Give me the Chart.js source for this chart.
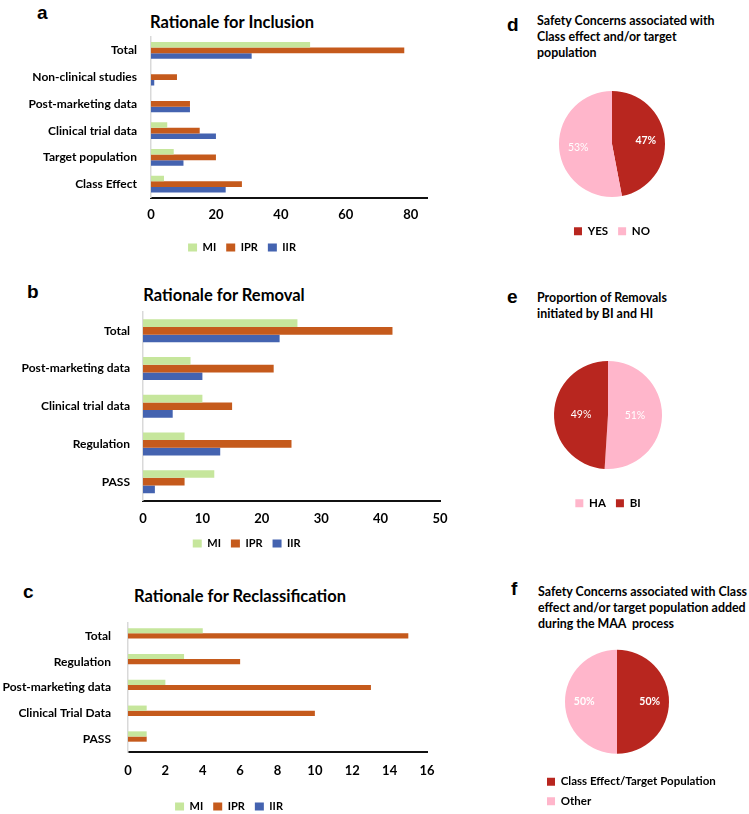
<!DOCTYPE html>
<html>
<head>
<meta charset="utf-8">
<script src="https://cdn.jsdelivr.net/npm/chart.js@4.4.1/dist/chart.umd.min.js"></script>
<style>
body{margin:0;background:#fff;width:749px;height:814px;overflow:hidden;position:relative;font-family:Lato,"Open Sans",sans-serif;color:#000}
canvas{position:absolute}
.letter{position:absolute;font:bold 19px "Liberation Sans",Arial,sans-serif;line-height:20px}
.ttl{position:absolute;width:300px;text-align:center;font-weight:bold;font-size:16.5px;line-height:18px;white-space:nowrap}
.pieTtl{position:absolute;font-weight:bold;font-size:12.4px;line-height:16px;white-space:nowrap}
</style>
</head>
<body>
<div class="letter" style="left:37px;top:3px">a</div>
<div class="letter" style="left:27px;top:282px">b</div>
<div class="letter" style="left:23px;top:582px">c</div>
<div class="letter" style="left:507px;top:15px">d</div>
<div class="letter" style="left:507px;top:287px">e</div>
<div class="letter" style="left:511px;top:579px">f</div>

<div class="ttl" style="left:82px;top:13px">Rationale for Inclusion</div>
<div class="ttl" style="left:74px;top:286px">Rationale for Removal</div>
<div class="ttl" style="left:90px;top:587px">Rationale for Reclassification</div>

<div class="pieTtl" style="left:537px;top:13px">Safety Concerns associated with<br>Class effect and/or target<br>population</div>
<div class="pieTtl" style="left:537px;top:290px">Proportion of Removals<br>initiated by BI and HI</div>
<div class="pieTtl" style="left:538px;top:584px">Safety Concerns associated with Class<br>effect and/or target population added<br>during the MAA&nbsp; process</div>

<canvas id="chartA" width="470" height="263" style="left:0;top:0"></canvas>
<canvas id="chartB" width="470" height="289" style="left:0;top:270px"></canvas>
<canvas id="chartC" width="460" height="242" style="left:0;top:580px"></canvas>
<canvas id="chartD" width="160" height="177" style="left:532px;top:70px"></canvas>
<canvas id="chartE" width="160" height="179" style="left:528px;top:340px"></canvas>
<canvas id="chartF" width="210" height="187" style="left:539px;top:630px"></canvas>

<script>
// bar series: MI, IPR, IIR
const seriesNames = ['MI', 'IPR', 'IIR'];
const seriesColors = ['#c6e69c', '#c55a1c', '#4463b0'];

const inclusionCats = ['Total', 'Non-clinical studies', 'Post-marketing data', 'Clinical trial data', 'Target population', 'Class Effect'];
const inclusionMI = [49, 0, 0, 5, 7, 4];
const inclusionIPR = [78, 8, 12, 15, 20, 28];
const inclusionIIR = [31, 1, 12, 20, 10, 23];

const removalCats = ['Total', 'Post-marketing data', 'Clinical trial data', 'Regulation', 'PASS'];
const removalMI = [26, 8, 10, 7, 12];
const removalIPR = [42, 22, 15, 25, 7];
const removalIIR = [23, 10, 5, 13, 2];

const reclassCats = ['Total', 'Regulation', 'Post-marketing data', 'Clinical Trial Data', 'PASS'];
const reclassMI = [4, 3, 2, 1, 1];
const reclassIPR = [15, 6, 13, 10, 1];
const reclassIIR = [0, 0, 0, 0, 0];

// pies
const darkRed = '#b8261f', pink = '#ffb6cb';
const concernLabels = ['YES', 'NO'];
const concernValues = [47, 53];
const removalByLabels = ['HA', 'BI'];
const removalByValues = [51, 49];
const maaLabels = ['Class Effect/Target Population', 'Other'];
const maaValues = [50, 50];

Chart.defaults.font.family = 'Lato, "Open Sans", sans-serif';
Chart.defaults.color = '#000';
Chart.defaults.animation = false;

// nudge / widen the bottom legend so it sits where the figure has it
const legendShift = {
  id: 'legendShift',
  afterLayout(chart, args, opts) {
    const lg = chart.legend;
    if (!lg) return;
    if (opts.dx) { lg.left += opts.dx; lg.right += opts.dx; }
    if (opts.grow) lg.right += opts.grow;
  }
};

function barChart(id, cats, mi, ipr, iir, o) {
  return new Chart(document.getElementById(id), {
    type: 'bar',
    data: {
      labels: cats,
      datasets: [mi, ipr, iir].map((d, i) => ({
        label: seriesNames[i], data: d, backgroundColor: seriesColors[i],
        barPercentage: 1, categoryPercentage: o.catPct
      }))
    },
    options: {
      indexAxis: 'y', responsive: false,
      layout: {padding: {left: 0, right: o.padR, top: o.padTop, bottom: 0}},
      plugins: {
        tooltip: {enabled: false},
        legend: {position: 'bottom', labels: {boxWidth: 9, boxHeight: 8, padding: o.legPad, font: {size: 11, weight: 'bold'}}},
        legendShift: {dx: o.legDx}
      },
      scales: {
        x: {
          min: 0, max: o.max,
          grid: {display: false, drawTicks: false},
          border: {display: true, color: '#111', width: 2},
          ticks: {stepSize: o.step, includeBounds: false, padding: o.tickPad, font: {size: 13, weight: 'bold'}},
          afterFit: s => { s.height = o.xh; }
        },
        y: {
          grid: {display: false, drawTicks: false},
          border: {display: true, color: '#d9d9d9', width: 1.5},
          ticks: {padding: o.yPad, font: {size: 12, weight: 'bold'}},
          afterFit: s => { s.width = o.yw; }
        }
      }
    },
    plugins: [legendShift]
  });
}

barChart('chartA', inclusionCats, inclusionMI, inclusionIPR, inclusionIIR,
  {max: 85, step: 20, catPct: 0.62, padR: 43, padTop: 37, yw: 151, yPad: 14, tickPad: 10, xh: 34.5, legPad: 10, legDx: 28.5});
barChart('chartB', removalCats, removalMI, removalIPR, removalIIR,
  {max: 50, step: 10, catPct: 0.61, padR: 30, padTop: 42, yw: 143, yPad: 13, tickPad: 10.5, xh: 27.5, legPad: 10, legDx: 26.7});
barChart('chartC', reclassCats, reclassMI, reclassIPR, reclassIIR,
  {max: 16, step: 2, catPct: 0.6, padR: 33, padTop: 43, yw: 128, yPad: 17, tickPad: 11, xh: 39, legPad: 10, legDx: 15.5});

// white percentage labels inside the slices
const pctLabels = {
  id: 'pctLabels',
  afterDatasetsDraw(chart, args, opts) {
    const ctx = chart.ctx, ds = chart.data.datasets[0];
    chart.getDatasetMeta(0).data.forEach((arc, i) => {
      const p = arc.getProps(['x', 'y', 'startAngle', 'endAngle', 'outerRadius'], true);
      const mid = (p.startAngle + p.endAngle) / 2, rr = p.outerRadius * opts.dist;
      ctx.save();
      ctx.fillStyle = '#fff';
      ctx.font = opts.weights[i] + ' 10.5px Lato, sans-serif';
      ctx.textAlign = 'center'; ctx.textBaseline = 'middle';
      ctx.fillText(ds.data[i] + '%', p.x + Math.cos(mid) * rr, p.y + Math.sin(mid) * rr);
      ctx.restore();
    });
  }
};

function pieChart(id, labels, values, colors, o) {
  return new Chart(document.getElementById(id), {
    type: 'pie',
    data: {labels: labels, datasets: [{data: values, backgroundColor: colors, borderWidth: 0, radius: o.r}]},
    options: {
      responsive: false,
      layout: {padding: {top: o.padTop, left: 0, right: o.padR || 0, bottom: 0}},
      plugins: {
        tooltip: {enabled: false},
        legend: {position: 'bottom', align: o.align || 'center',
          labels: {boxWidth: 8, boxHeight: 8, padding: o.legPad, font: {size: 11.5, weight: 'bold'}}},
        pctLabels: {dist: o.dist, weights: o.weights},
        legendShift: {grow: o.padR || 0}
      }
    },
    plugins: [pctLabels, legendShift]
  });
}

pieChart('chartD', concernLabels, concernValues, [darkRed, pink],
  {r: 53, padTop: 2.5, legPad: 10, dist: 0.64, weights: ['bold', 'normal']});
pieChart('chartE', removalByLabels, removalByValues, [pink, darkRed],
  {r: 54, padTop: 2.5, legPad: 10, dist: 0.5, weights: ['normal', 'normal']});
pieChart('chartF', maaLabels, maaValues, [darkRed, pink],
  {r: 52, padTop: 5.5, padR: 54, legPad: 8, align: 'start', dist: 0.63, weights: ['bold', 'bold']});
</script>
</body>
</html>
